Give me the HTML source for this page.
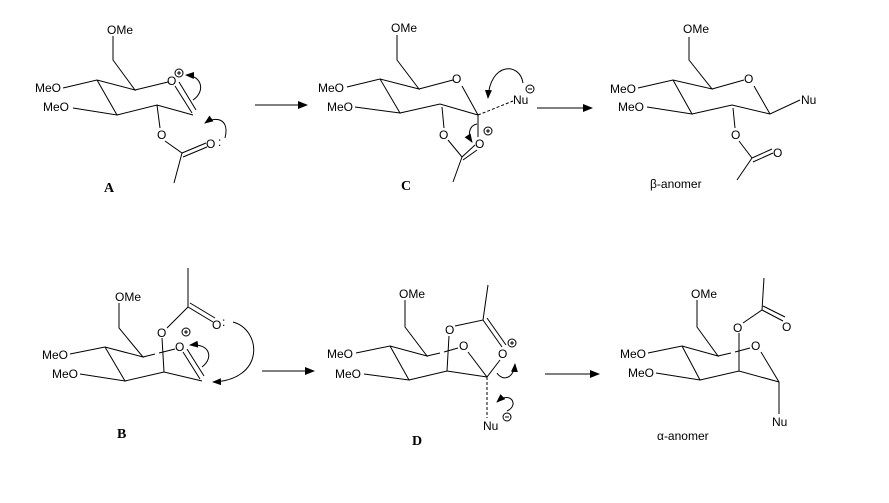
<!DOCTYPE html>
<html><head><meta charset="utf-8"><style>
html,body{margin:0;padding:0;background:#fff;}
svg{display:block;}
text{font-family:"Liberation Sans",sans-serif;font-size:12px;fill:#000;}
.lbl{font-family:"Liberation Serif",serif;font-weight:bold;font-size:14px;}
</style></head><body>
<svg width="889" height="503" viewBox="0 0 889 503" xmlns="http://www.w3.org/2000/svg">
<defs>
<marker id="ah" markerWidth="10" markerHeight="8" refX="9" refY="4" orient="auto" markerUnits="userSpaceOnUse">
<path d="M0,0 L10,4 L0,8 z" fill="#000"/></marker>
<marker id="ch" markerWidth="9" markerHeight="7" refX="8" refY="3.5" orient="auto" markerUnits="userSpaceOnUse">
<path d="M0,0 L9,3.5 L0,7 z" fill="#000"/></marker>
</defs>
<g stroke="#000" stroke-width="1" fill="none">
<!-- A -->
<path d="M113,36 L113,60 L135,90 L97,80 L63,88 M97,80 L117,115 L73,108 M117,115 L157,105 L193,115 M135,90 L168,82 M175,86 L192,113 M179,82 L196,110 M157,105 L160,128 M165,141 L182,153 L206,143 M183,157 L207,147 M182,153 L174,183"/>
<circle cx="179" cy="73" r="4"/>
<path d="M179,71 v4 M177,73 h4"/>
<path d="M193,100 C205,92 203,76 186,75" marker-end="url(#ch)"/>
<path d="M225,138 C230,118 215,116 205,123" marker-end="url(#ch)"/>
<!-- C -->
<path d="M397,35 L397,60 L419,89 L380,79 L347,87 M380,79 L400,113 L355,107 M400,113 L440,104 L478,115 M419,89 L453,80 M462,86 L478,115 M478,115 L478,137 M442,107 L444,128 M448,140 L462,157 L475,145 M463,160 L477,150 M462,157 L453,182"/>
<path d="M478,115 L513,101" stroke-dasharray="3,2"/>
<circle cx="488" cy="131" r="4"/><path d="M488,129 v4 M486,131 h4"/>
<circle cx="530" cy="89" r="4"/><path d="M528,89 h4"/>
<path d="M523,83 C520,62 490,62 488,98" marker-end="url(#ch)"/>
<path d="M477,124 C468,126 468,136 472,142" marker-end="url(#ch)"/>
<!-- beta -->
<path d="M689,37 L689,60 L712,89 L673,80 L638,88 M673,80 L692,114 L647,107 M692,114 L732,105 L770,114 M712,89 L744,80 M754,86 L770,114 L800,100 M733,108 L735,128 M739,141 L752,158 L772,149 M753,162 L773,153 M752,158 L737,180"/>
<!-- B -->
<path d="M119,303 L119,328 L143,357 L105,347 L70,354 M105,347 L125,381 L80,374 M125,381 L164,372 L202,381 M143,357 L155,354 M159,353 L175,349 M183,352 L200,379 M187,349 L204,376 M164,372 L162,338 M167,328 L188,307 L213,322 M190,303 L215,318 M188,307 L188,268"/>
<circle cx="186" cy="332" r="4"/><path d="M186,330 v4 M184,332 h4"/>
<path d="M233,322 C262,330 265,380 213,382" marker-end="url(#ch)"/>
<path d="M202,367 C214,358 210,343 190,345" marker-end="url(#ch)"/>
<!-- D -->
<path d="M405,300 L405,327 L427,356 L390,346 L356,353 M390,346 L409,380 L364,374 M409,380 L447,371 L487,377 M427,356 L440,353 M444,352 L458,348 M468,352 L487,377 L500,360 M447,371 L449,336 M455,326 L483,320 L502,347 M487,318 L506,345 M483,320 L488,285"/>
<path d="M487,377 L487,418" stroke-dasharray="3,2"/>
<circle cx="512" cy="343" r="4"/><path d="M512,341 v4 M510,343 h4"/>
<circle cx="507" cy="417" r="4"/><path d="M505,417 h4"/>
<path d="M497,373 C503,382 514,378 515,364" marker-end="url(#ch)"/>
<path d="M507,411 C520,405 510,390 497,402" marker-end="url(#ch)"/>
<!-- alpha -->
<path d="M697,300 L697,327 L718,356 L682,346 L648,353 M682,346 L700,380 L656,373 M700,380 L739,371 L779,382 M718,356 L731,353 M735,352 L750,348 M761,352 L779,382 L779,414 M739,371 L739,333 M743,323 L762,310 L783,321 M763,306 L785,317 M762,310 L764,278"/>
<!-- reaction arrows -->
<path d="M255,105 L307,105" marker-end="url(#ah)"/>
<path d="M537,108 L592,108" marker-end="url(#ah)"/>
<path d="M262,371 L314,371" marker-end="url(#ah)"/>
<path d="M545,374 L599,374" marker-end="url(#ah)"/>
</g>
<text x="107" y="34">OMe</text>
<text x="35" y="92">MeO</text>
<text x="43" y="111">MeO</text>
<text x="167" y="85">O</text>
<text x="157" y="139">O</text>
<text x="206" y="148">O</text>
<text x="218" y="146">:</text>
<text class="lbl" x="104" y="192">A</text>

<text x="391" y="32">OMe</text>
<text x="318" y="92">MeO</text>
<text x="327" y="111">MeO</text>
<text x="452" y="83">O</text>
<text x="475" y="148">O</text>
<text x="439" y="139">O</text>
<text x="513" y="104">Nu</text>
<text class="lbl" x="401" y="190">C</text>

<text x="683" y="33">OMe</text>
<text x="610" y="93">MeO</text>
<text x="618" y="111">MeO</text>
<text x="744" y="83">O</text>
<text x="731" y="139">O</text>
<text x="773" y="157">O</text>
<text x="801" y="104">Nu</text>
<text x="650" y="188">β-anomer</text>

<text x="115" y="301">OMe</text>
<text x="42" y="359">MeO</text>
<text x="52" y="378">MeO</text>
<text x="175" y="351">O</text>
<text x="157" y="337">O</text>
<text x="212" y="329">O</text>
<text x="222" y="326">:</text>
<text class="lbl" x="117" y="438">B</text>

<text x="399" y="298">OMe</text>
<text x="327" y="358">MeO</text>
<text x="335" y="378">MeO</text>
<text x="459" y="350">O</text>
<text x="445" y="334">O</text>
<text x="498" y="358">O</text>
<text x="483" y="430">Nu</text>
<text class="lbl" x="412" y="445">D</text>

<text x="691" y="298">OMe</text>
<text x="620" y="358">MeO</text>
<text x="628" y="377">MeO</text>
<text x="751" y="350">O</text>
<text x="733" y="332">O</text>
<text x="782" y="331">O</text>
<text x="772" y="426">Nu</text>
<text x="657" y="440">α-anomer</text>
</svg>
</body></html>
